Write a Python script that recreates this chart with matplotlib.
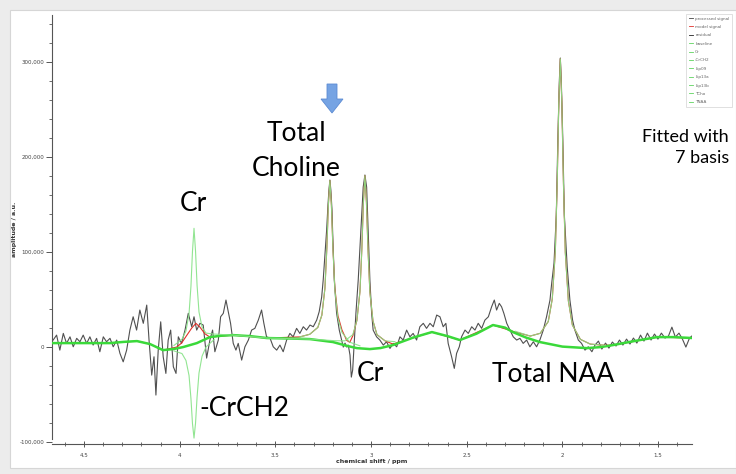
import matplotlib
matplotlib.use("Agg")
import matplotlib.pyplot as plt
import numpy as np
from matplotlib.lines import Line2D
from matplotlib.patches import Polygon, Rectangle
from matplotlib.ticker import MultipleLocator, FuncFormatter

# processed signal (ppm, amplitude in thousands)
signal_ppm = [4.661, 4.643, 4.626, 4.608, 4.591, 4.573, 4.556, 4.538, 4.521, 4.504,
              4.486, 4.469, 4.452, 4.434, 4.417, 4.399, 4.382, 4.364, 4.347, 4.329,
              4.312, 4.295, 4.277, 4.260, 4.243, 4.225, 4.208, 4.190, 4.172, 4.160,
              4.146, 4.134, 4.124, 4.112, 4.099, 4.086, 4.072, 4.060, 4.047, 4.033,
              4.019, 4.007, 3.990, 3.972, 3.955, 3.937, 3.925, 3.911, 3.894, 3.877,
              3.859, 3.842, 3.828, 3.816, 3.798, 3.786, 3.772, 3.758, 3.746, 3.734,
              3.720, 3.706, 3.694, 3.676, 3.659, 3.641, 3.624, 3.607, 3.589, 3.572,
              3.560, 3.546, 3.528, 3.511, 3.493, 3.476, 3.459, 3.441, 3.424, 3.407,
              3.389, 3.372, 3.354, 3.337, 3.319, 3.302, 3.284, 3.271, 3.258, 3.250,
              3.241, 3.232, 3.225, 3.220, 3.215, 3.210, 3.204, 3.201, 3.192, 3.180,
              3.166, 3.154, 3.145, 3.136, 3.127, 3.119, 3.110, 3.103, 3.096, 3.089,
              3.079, 3.067, 3.053, 3.041, 3.032, 3.023, 3.015, 3.006, 2.997, 2.989,
              2.971, 2.954, 2.936, 2.919, 2.901, 2.884, 2.866, 2.849, 2.832, 2.814,
              2.797, 2.780, 2.762, 2.745, 2.727, 2.710, 2.692, 2.675, 2.657, 2.640,
              2.623, 2.609, 2.597, 2.579, 2.565, 2.553, 2.539, 2.527, 2.509, 2.492,
              2.474, 2.457, 2.440, 2.422, 2.405, 2.387, 2.370, 2.356, 2.344, 2.330,
              2.318, 2.306, 2.291, 2.274, 2.257, 2.239, 2.222, 2.205, 2.187, 2.170,
              2.152, 2.135, 2.118, 2.100, 2.083, 2.065, 2.056, 2.044, 2.032, 2.024,
              2.016, 2.011, 2.006, 1.998, 1.990, 1.975, 1.961, 1.947, 1.935, 1.917,
              1.900, 1.882, 1.865, 1.846, 1.830, 1.812, 1.794, 1.775, 1.757, 1.739,
              1.720, 1.702, 1.684, 1.665, 1.647, 1.629, 1.611, 1.592, 1.574, 1.556,
              1.537, 1.519, 1.501, 1.483, 1.464, 1.446, 1.428, 1.410, 1.391, 1.373,
              1.355, 1.336, 1.318]
signal_amp = [7.4, 12.6, -3.2, 14.4, 3.9, 10.8, 0.3, 9.2, 5.6, 12.6,
              3.9, 10.8, 2.1, 9.2, -4.9, 10.8, 5.6, 9.2, 0.3, 7.4,
              -6.6, -15.5, -3.2, 17.9, 31.9, 17.9, 39.0, 25.0, 44.2, 7.4,
              -29.5, -10.2, -50.5, -3.2, 26.6, -10.2, -27.7, 7.4, 17.9, -20.7,
              -27.7, 10.8, 3.9, 17.9, 35.5, 21.4, 31.9, 17.9, 25.0, 23.2,
              -11.6, 7.4, 17.9, -4.9, 7.4, 31.9, 35.5, 49.5, 37.2, 25.0,
              3.9, -3.2, 3.9, -13.7, 0.3, 7.4, 17.9, 19.7, 28.4, 39.0,
              25.0, 10.8, 9.5, 0.3, -3.2, 2.1, -4.9, 7.4, 14.4, 10.8,
              19.7, 14.4, 21.4, 17.9, 23.2, 21.4, 28.4, 37.2, 52.6, 70.5,
              96.9, 123.2, 149.5, 165.3, 175.8, 165.3, 144.2, 123.2, 70.5, 35.8,
              17.9, 7.4, 0.0, 4.2, 0.0, 2.1, -8.4, -31.6, -24.2, 0.0,
              35.8, 70.5, 123.2, 168.4, 181.1, 168.4, 123.2, 70.5, 35.8, 17.9,
              10.8, 7.4, 2.1, 5.6, -1.4, 3.9, 0.3, 10.8, 7.4, 17.9,
              10.8, 14.4, 7.4, 21.4, 25.0, 19.7, 25.0, 21.4, 33.7, 31.9,
              21.4, 25.0, 3.9, -10.2, -22.4, -6.6, 0.3, 10.8, 17.9, 14.4,
              21.4, 17.9, 25.0, 19.7, 28.4, 31.9, 42.4, 49.5, 39.0, 46.0,
              42.4, 35.5, 25.0, 17.9, 10.8, 7.4, 9.2, 3.9, 7.4, 0.3,
              5.6, 0.3, 7.4, 17.9, 31.9, 49.5, 67.4, 88.4, 139.0, 217.9,
              281.1, 304.2, 281.1, 217.9, 139.0, 84.2, 49.5, 28.4, 17.9, 7.4,
              3.9, -3.2, 0.3, -4.9, 2.1, 6.3, -2.1, 4.2, -1.1, 5.3,
              1.1, 7.4, 2.1, 8.4, 3.2, 9.5, 4.2, 12.6, 6.3, 14.7,
              7.4, 13.7, 8.4, 14.7, 9.5, 11.6, 21.0, 10.5, 14.7, 8.4,
              0.0, 9.5, 12.6]

# baseline
baseline_ppm = [4.662, 4.521, 4.364, 4.290, 4.223, 4.155, 4.087, 4.030, 3.982, 3.910,
                3.842, 3.780, 3.721, 3.630, 3.544, 3.420, 3.319, 3.199, 3.130, 3.074,
                3.006, 2.950, 2.886, 2.780, 2.682, 2.600, 2.536, 2.450, 2.363, 2.300,
                2.259, 2.190, 2.118, 2.000, 1.872, 1.800, 1.736, 1.620, 1.506, 1.420,
                1.318]
baseline_amp = [4.2, 4.2, 4.2, 5.5, 6.3, 3.2, -3.2, -2.0, 0.0, 4.2,
                10.5, 12.0, 12.6, 11.5, 9.5, 9.0, 8.4, 5.3, 1.5, -1.1,
                -2.1, -1.0, 2.1, 10.0, 15.8, 11.5, 7.4, 14.0, 23.2, 20.5,
                15.8, 10.0, 5.3, 0.5, -1.1, 0.0, 2.1, 6.5, 10.5, 10.5,
                9.5]

# model signal
model_ppm = [4.662, 4.521, 4.364, 4.223, 4.155, 4.087, 4.016, 3.990, 3.964, 3.937,
             3.915, 3.894, 3.868, 3.842, 3.721, 3.544, 3.372, 3.320, 3.278, 3.257,
             3.241, 3.231, 3.223, 3.215, 3.207, 3.199, 3.189, 3.173, 3.152, 3.127,
             3.111, 3.095, 3.074, 3.058, 3.048, 3.040, 3.032, 3.024, 3.016, 3.006,
             2.990, 2.969, 2.927, 2.886, 2.682, 2.536, 2.363, 2.259, 2.168, 2.116,
             2.074, 2.053, 2.037, 2.027, 2.019, 2.011, 2.003, 1.995, 1.985, 1.969,
             1.948, 1.906, 1.854, 1.776, 1.736, 1.506, 1.318]
model_amp = [4.2, 4.2, 4.2, 6.3, 3.2, -3.2, 0.0, 4.2, 12.0, 20.0,
             25.0, 21.0, 14.0, 10.5, 12.6, 9.5, 10.7, 13.5, 20.7, 33.6,
             61.7, 103.8, 149.4, 175.3, 148.9, 103.3, 62.0, 33.0, 18.0, 7.0,
             5.0, 12.0, 28.0, 58.2, 103.3, 152.1, 180.4, 152.1, 103.3, 57.7,
             27.6, 13.1, 6.6, 3.2, 15.8, 7.4, 23.2, 16.6, 11.6, 14.5,
             26.9, 50.7, 101.2, 176.1, 257.1, 303.5, 256.5, 175.0, 99.6, 48.6,
             23.2, 8.1, 3.1, 1.9, 2.1, 10.5, 9.5]

# fitted components (drawn on top of the baseline)
cr_ppm = [4.030, 3.988, 3.967, 3.951, 3.941, 3.933, 3.925, 3.917, 3.909, 3.899,
          3.883, 3.862, 3.820, 3.721, 3.544, 3.319, 3.189, 3.137, 3.095, 3.074,
          3.058, 3.048, 3.040, 3.032, 3.024, 3.016, 3.006, 2.990, 2.969, 2.927, 2.875]
cr_amp = [1.7, 8.2, 16.9, 35.0, 64.0, 100.8, 125.0, 101.0, 65.0, 37.0,
          20.9, 14.7, 13.7, 12.6, 9.5, 8.4, 6.7, 6.6, 13.1, 28.1,
          58.2, 103.3, 152.1, 180.4, 152.1, 103.3, 57.7, 27.6, 13.1, 6.6, 5.7]

crch2_ppm = [4.030, 3.988, 3.967, 3.951, 3.941, 3.933, 3.925, 3.917, 3.909, 3.899,
             3.883, 3.862, 3.820]
crch2_amp = [-4.0, -6.8, -14.1, -29.9, -54.1, -80.5, -95.8, -80.0, -52.6, -27.4,
             -9.6, 0.2, 8.0]

tcho_ppm = [3.372, 3.320, 3.278, 3.257, 3.241, 3.231, 3.223, 3.215, 3.207, 3.199,
            3.189, 3.173, 3.152, 3.111, 3.058]
tcho_amp = [10.7, 13.5, 20.7, 33.6, 61.7, 103.8, 149.4, 175.3, 148.9, 103.3,
            60.1, 30.5, 15.4, 5.1, 1.3]

tnaa_ppm = [2.246, 2.168, 2.116, 2.074, 2.053, 2.037, 2.027, 2.019, 2.011, 2.003,
            1.995, 1.985, 1.969, 1.948, 1.906, 1.854, 1.776]
tnaa_amp = [16.6, 11.6, 14.5, 26.9, 50.7, 101.2, 176.1, 257.1, 303.5, 256.5,
            175.0, 99.6, 48.6, 23.2, 8.1, 3.1, 1.9]

legend_labels = ["processed signal", "model signal", "residual", "baseline", "Cr",
                 "-CrCH2", "Lip09", "Lip13a", "Lip13b", "TCho", "TNAA"]

W, H = 736, 474
fig = plt.figure(figsize=(W / 100, H / 100), dpi=100, facecolor="#ececec")
fig.patches.append(Rectangle((10 / W, 6 / H), 726 / W, 458 / H, transform=fig.transFigure,
                             facecolor="white", edgecolor="#d6d6d6", lw=0.8, zorder=-1))

ax = fig.add_axes([52 / W, 1 - 444 / H, 640 / W, (444 - 15) / H])
ax.set_facecolor("none")

k = 1000.0
ax.plot(signal_ppm, np.array(signal_amp) * k, color="#505050", lw=0.8, zorder=2)
ax.plot(model_ppm, np.array(model_amp) * k, color="#e0302a", lw=0.8, zorder=3)
ax.plot(baseline_ppm, np.array(baseline_amp) * k, color="#3ad93a", lw=1.8, zorder=4)
comp_col = "#86e286"
for xs, ys in [(cr_ppm, cr_amp), (crch2_ppm, crch2_amp), (tcho_ppm, tcho_amp),
               (tnaa_ppm, tnaa_amp)]:
    ax.plot(xs, np.array(ys) * k, color=comp_col, lw=0.8, alpha=0.9, zorder=5)

ax.set_xlim(4.667, 1.323)
ax.set_ylim(-102000, 349500)

for s in ["top", "right"]:
    ax.spines[s].set_visible(False)
for s in ["left", "bottom"]:
    ax.spines[s].set_color("#555555")
    ax.spines[s].set_linewidth(0.8)
ax.spines["left"].set_bounds(-97000, 349500)

ax.xaxis.set_major_locator(MultipleLocator(0.5))
ax.xaxis.set_minor_locator(MultipleLocator(0.1))
ax.yaxis.set_major_locator(MultipleLocator(100000))
ax.yaxis.set_minor_locator(MultipleLocator(20000))
ax.xaxis.set_major_formatter(FuncFormatter(lambda v, p: f"{v:g}"))
ax.yaxis.set_major_formatter(FuncFormatter(lambda v, p: f"{v:,.0f}"))
ax.tick_params(axis="x", which="major", direction="inout", length=5, width=0.7,
               color="#555555", labelsize=4, labelcolor="#444444", pad=4)
ax.tick_params(axis="x", which="minor", direction="inout", length=2.5, width=0.6,
               color="#555555")
ax.tick_params(axis="y", which="major", direction="out", length=4, width=0.7,
               color="#555555", labelsize=4, labelcolor="#444444", pad=1.5)
ax.tick_params(axis="y", which="minor", direction="out", length=2.5, width=0.6,
               color="#555555")
ax.set_xlabel("chemical shift / ppm", fontsize=4.5, fontweight="bold", color="#333333",
              labelpad=1)
ax.set_ylabel("amplitude / a.u.", fontsize=4.5, fontweight="bold", color="#333333",
              labelpad=2)

# legend box in the top right corner
handles = [Line2D([], [], color="#444444", lw=0.6), Line2D([], [], color="#e0302a", lw=0.6),
           Line2D([], [], color="#222222", lw=0.6)]
handles += [Line2D([], [], color="#5fd35f", lw=0.6) for _ in legend_labels[3:]]
leg = fig.legend(handles, legend_labels, loc="upper right",
                 bbox_to_anchor=(734 / W, 1 - 12 / H), fontsize=3.0, handlelength=1.0,
                 labelspacing=1.05, borderpad=0.6, handletextpad=0.5, frameon=True,
                 fancybox=False, edgecolor="#c8c8c8", labelcolor="#666666")
leg.get_frame().set_linewidth(0.5)

# annotations
font = ["Lato", "DejaVu Sans"]
big = 19
ax.text(3.392, 225000, "Total", fontsize=big, family=font, ha="center", va="center")
ax.text(3.392, 188000, "Choline", fontsize=big, family=font, ha="center", va="center")
ax.text(3.930, 151600, "Cr", fontsize=big, family=font, ha="center", va="center")
ax.text(3.664, -64200, "-CrCH2", fontsize=big, family=font, ha="center", va="center")
ax.text(3.006, -27400, "Cr", fontsize=big, family=font, ha="center", va="center")
ax.text(2.050, -28400, "Total NAA", fontsize=big, family=font, ha="center", va="center")
fig.text(729 / W, 1 - 137 / H, "Fitted with", fontsize=13, family=font, ha="right",
         va="center")
fig.text(729 / W, 1 - 158 / H, "7 basis", fontsize=13, family=font, ha="right",
         va="center")

# blue arrow above the choline peak
arrow_px = [(327, 84), (337, 84), (337, 99), (343, 99), (332, 113), (321, 99), (327, 99)]
fig.add_artist(Polygon([(x / W, 1 - y / H) for x, y in arrow_px], closed=True,
                       transform=fig.transFigure, facecolor="#75a3e3",
                       edgecolor="#5c8bd3", lw=0.6))

fig.savefig("out.png", dpi=100, facecolor=fig.get_facecolor())
